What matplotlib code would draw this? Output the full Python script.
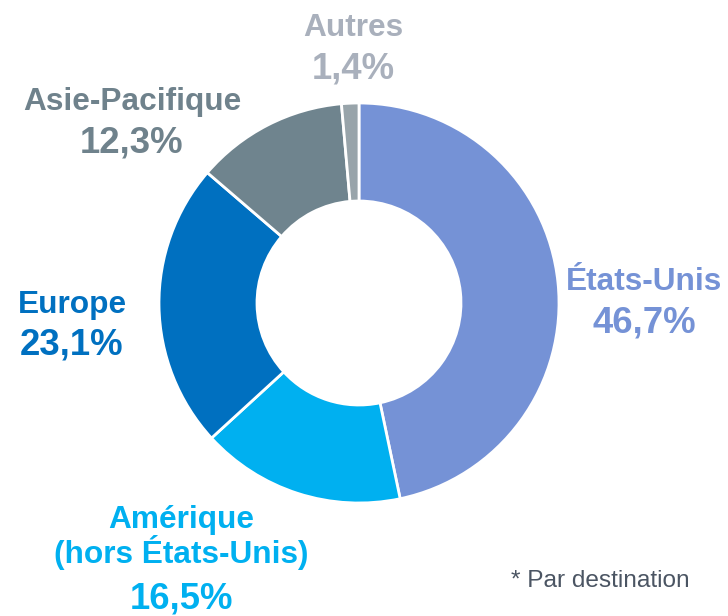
import matplotlib
matplotlib.use("Agg")
import matplotlib.pyplot as plt

# ---- data ----
categories = ["États-Unis", "Amérique\n(hors États-Unis)", "Europe", "Asie-Pacifique", "Autres"]
values = [46.7, 16.5, 23.1, 12.3, 1.4]
pct_labels = ["46,7%", "16,5%", "23,1%", "12,3%", "1,4%"]
wedge_colors = ["#7592D6", "#00B0F0", "#0070C0", "#6F848E", "#98A4AA"]
label_colors = ["#7592D6", "#00B0F0", "#0070C0", "#6F828C", "#A9B0BC"]
footnote = "* Par destination"

# label anchor positions (pixels from top-left): x center, name baseline, pct baseline
label_x = [644, 181, 72, 132, 353]
name_base = [290, 528, 313, 110, 36]
pct_base = [332, 608, 354, 153, 78]

W, H = 728, 616
plt.rcParams['font.family'] = ['Liberation Sans', 'DejaVu Sans']
fig = plt.figure(figsize=(W / 100, H / 100), dpi=100)
ax = fig.add_axes([0, 0, 1, 1])

cx, cy, R = 359, H - 303, 200
ax.pie(values, colors=wedge_colors, startangle=90, counterclock=False,
       center=(cx, cy), radius=R,
       wedgeprops=dict(width=98, edgecolor="white", linewidth=2))
ax.set_xlim(0, W)
ax.set_ylim(0, H)
ax.set_aspect("equal")
ax.axis("off")

name_size = 22.8
pct_size = 26.3
for cat, pct, col, x, nb, pb in zip(categories, pct_labels, label_colors, label_x, name_base, pct_base):
    lines = cat.split("\n")
    ax.text(x, H - nb, lines[0], ha="center", va="baseline", fontsize=name_size,
            fontweight="bold", color=col)
    if len(lines) > 1:
        ax.text(x, H - 563, lines[1], ha="center", va="baseline", fontsize=name_size,
                fontweight="bold", color=col)
    ax.text(x, H - pb, pct, ha="center", va="baseline", fontsize=pct_size,
            fontweight="bold", color=col)

ax.text(600, H - 587, footnote, ha="center", va="baseline", fontsize=17.6, color="#4B5563")

fig.savefig("out.png", dpi=100)
